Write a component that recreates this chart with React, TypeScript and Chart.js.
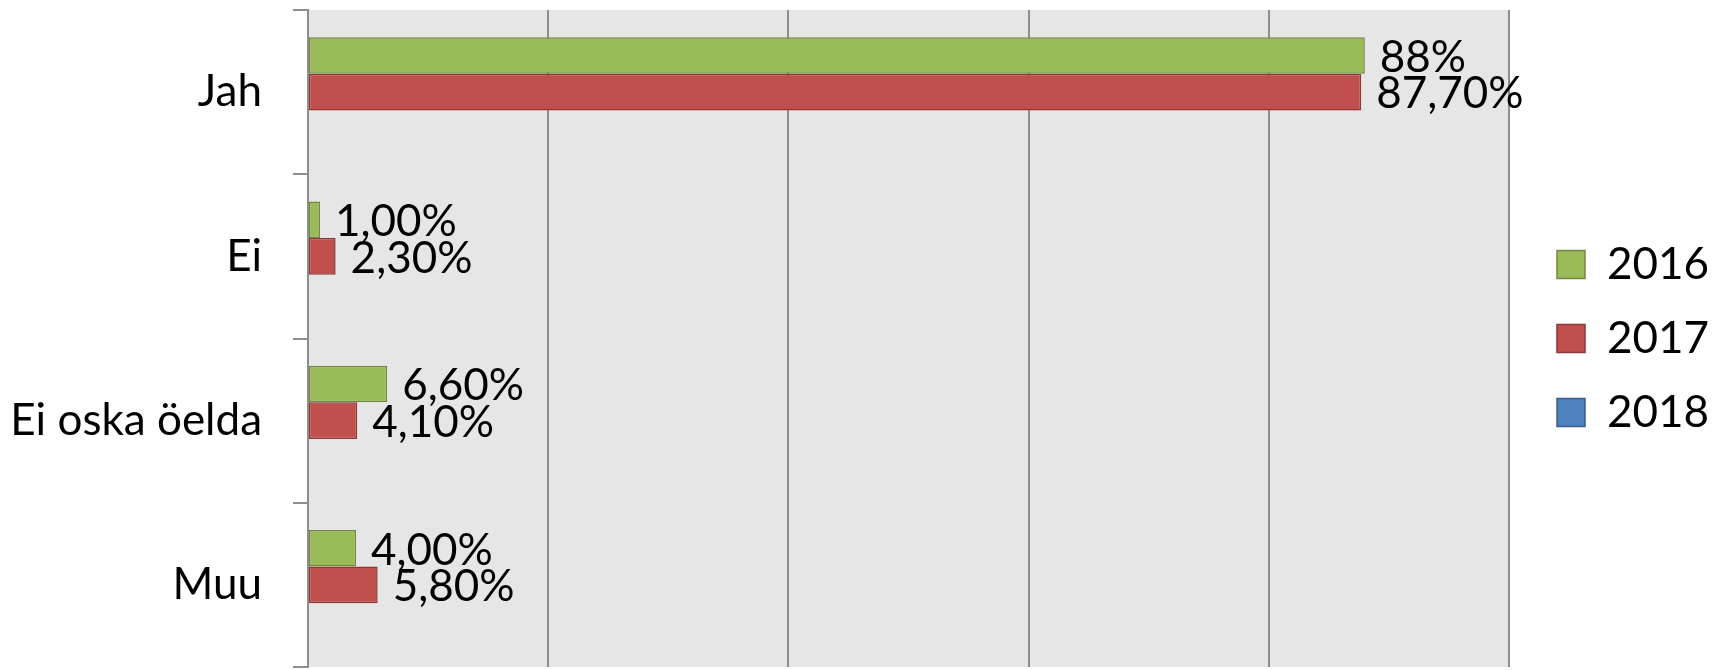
import React, { useEffect, useRef } from "react";
import { Chart, registerables } from "chart.js";

Chart.register(...registerables);

const categories = ["Jah", "Ei", "Ei oska öelda", "Muu"];
const seriesNames = ["2016", "2017", "2018"];
const values2016 = [88, 1.0, 6.6, 4.0];
const values2017 = [87.7, 2.3, 4.1, 5.8];
const values2018: (number | null)[] = [null, null, null, null];
const labels2016 = ["88%", "1,00%", "6,60%", "4,00%"];
const labels2017 = ["87,70%", "2,30%", "4,10%", "5,80%"];
const labels2018 = ["", "", "", ""];
const xTicks = { min: 0, max: 100, step: 20 };

const FONT = "Lato";
const FS = 44;

const plotBg = {
  id: "plotBg",
  beforeDraw(chart: any) {
    const { ctx, chartArea } = chart;
    ctx.save();
    ctx.fillStyle = "#e6e6e6";
    ctx.fillRect(chartArea.left, chartArea.top, chartArea.right - chartArea.left, chartArea.bottom - chartArea.top);
    ctx.restore();
  },
};

const valueLabels = {
  id: "valueLabels",
  afterDatasetsDraw(chart: any) {
    const { ctx } = chart;
    const all = [labels2016, labels2017, labels2018];
    ctx.save();
    ctx.font = `${FS}px ${FONT}`;
    ctx.fillStyle = "#000";
    ctx.textAlign = "left";
    ctx.textBaseline = "middle";
    chart.data.datasets.forEach((ds: any, i: number) => {
      const meta = chart.getDatasetMeta(i);
      meta.data.forEach((bar: any, j: number) => {
        const t = all[i][j];
        if (!t || ds.data[j] == null) return;
        ctx.fillText(t, bar.x + 15, bar.y + 2);
      });
    });
    ctx.restore();
  },
};

const legendShift = {
  id: "legendShift",
  afterLayout(chart: any) {
    const lg = chart.legend;
    if (lg) {
      const shift = 1557 - chart.chartArea.right - 30;
      lg.left += shift;
      lg.right += shift;
    }
  },
};

export default function App() {
  const ref = useRef<HTMLCanvasElement>(null);
  useEffect(() => {
    document.body.style.margin = "0";
    let chart: Chart | null = null;
    let cancelled = false;
    const make = () => {
      if (cancelled || !ref.current) return;
      chart = new Chart(ref.current, {
        type: "bar",
        data: {
          labels: categories,
          datasets: [
            { label: seriesNames[0], data: values2016, backgroundColor: "#9bbb59", borderColor: "#71893f", borderWidth: 1.5, borderSkipped: false },
            { label: seriesNames[1], data: values2017, backgroundColor: "#c0504d", borderColor: "#8c3836", borderWidth: 1.5, borderSkipped: false },
            { label: seriesNames[2], data: values2018, backgroundColor: "#4f81bd", borderColor: "#385d8a", borderWidth: 1.5, borderSkipped: false },
          ],
        },
        options: {
          indexAxis: "y",
          responsive: false,
          animation: false,
          layout: { padding: { top: 10, bottom: 3, left: 0, right: 18 } },
          datasets: { bar: { categoryPercentage: 0.667, barPercentage: 1 } },
          scales: {
            x: {
              min: xTicks.min,
              max: xTicks.max,
              ticks: { display: false, stepSize: xTicks.step },
              grid: { color: "#8e8e8e", lineWidth: 2, drawTicks: false },
              border: { display: false },
              afterFit: (s: any) => { s.height = 0; s.paddingLeft = 0; s.paddingRight = 0; s.paddingTop = 0; s.paddingBottom = 0; },
            },
            y: {
              ticks: { color: "#000", font: { family: FONT, size: FS }, padding: 31 },
              grid: { offset: true, drawOnChartArea: false, tickLength: 15, color: "#8e8e8e", lineWidth: 2 },
              border: { color: "#8e8e8e", width: 2 },
              afterFit: (s: any) => { s.width = 308; s.paddingTop = 0; s.paddingBottom = 0; s.paddingLeft = 0; s.paddingRight = 0; },
            },
          },
          plugins: {
            legend: {
              position: "right",
              align: "center",
              labels: {
                color: "#000",
                font: { family: FONT, size: FS },
                boxWidth: 28,
                boxHeight: 28,
                padding: 30,
              },
            },
            tooltip: { enabled: false },
          },
        },
        plugins: [plotBg, valueLabels, legendShift],
      } as any);
    };
    if ((document as any).fonts && (document as any).fonts.load) {
      (document as any).fonts.load(`${FS}px ${FONT}`).then(make, make);
    } else make();
    return () => {
      cancelled = true;
      if (chart) chart.destroy();
    };
  }, []);
  return (
    <div style={{ width: 1719, height: 670 }}>
      <canvas ref={ref} width={1719} height={670} style={{ display: "block" }} />
    </div>
  );
}
